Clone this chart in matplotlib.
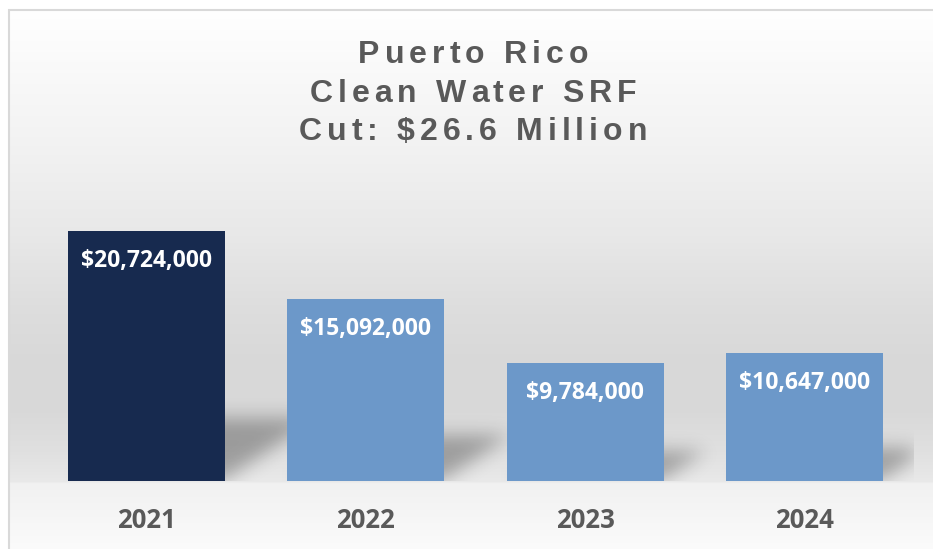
import numpy as np
import matplotlib
matplotlib.use("Agg")
from matplotlib import pyplot as plt
from matplotlib.path import Path
from matplotlib.font_manager import FontProperties

# chart data
years = ["2021", "2022", "2023", "2024"]
amounts = [20724000, 15092000, 9784000, 10647000]
value_labels = ["$20,724,000", "$15,092,000", "$9,784,000", "$10,647,000"]
title_lines = ["Puerto Rico", "Clean Water SRF", "Cut: $26.6 Million"]

bar_colors = ["#172a4f", "#6c98c9", "#6c98c9", "#6c98c9"]

W, H = 933, 549
fig = plt.figure(figsize=(W / 100, H / 100), dpi=100)

# background axes in pixel coords
bg = fig.add_axes([0, 0, 1, 1], zorder=0)
bg.set_xlim(0, W)
bg.set_ylim(H, 0)
bg.axis("off")

# vertical gradient, grey in the middle, light at top and bottom
stops_y = [0, 10, 130, 230, 300, 360, 410, 450, 480, 482, 549]
stops_c = [255, 254, 243, 232, 222, 216, 217, 224, 233, 241, 251]
ys = np.arange(H)
grey = np.interp(ys, stops_y, stops_c) / 255.0
grad = np.repeat(grey[:, None], 2, axis=1)
bg.imshow(np.dstack([grad, grad, grad]), extent=(8, W, H, 9), aspect="auto",
          interpolation="bilinear", zorder=0)
bg.plot([8.5, 8.5], [9, H], color="#d9d9d9", lw=1.5, solid_capstyle="butt")
bg.plot([8, W], [9.5, 9.5], color="#d9d9d9", lw=1.5, solid_capstyle="butt")

# title with letter spacing, each char placed by hand
renderer = fig.canvas.get_renderer()
tprop = FontProperties(family="Liberation Sans", weight="bold", size=23)
track = 5.0
center_x = 473
baselines = [63, 102, 140]


def text_w(s):
    w, h, d = renderer.get_text_width_height_descent(s + "|", tprop, ismath=False)
    w0, h0, d0 = renderer.get_text_width_height_descent("|", tprop, ismath=False)
    return w - w0


for line, base in zip(title_lines, baselines):
    total = text_w(line) + track * (len(line) - 1)
    x0 = center_x - total / 2
    for i, ch in enumerate(line):
        if ch == " ":
            continue
        x = x0 + text_w(line[:i]) + track * i
        bg.text(x, base, ch, fontproperties=tprop, color="#595959",
                ha="left", va="baseline")

# main axes
ax_left, ax_right = 37, 914
ax_bottom, ax_top = 481, 150
ax = fig.add_axes([ax_left / W, (H - ax_bottom) / H,
                   (ax_right - ax_left) / W, (ax_bottom - ax_top) / H], zorder=2)
ax.patch.set_alpha(0)
ymax = amounts[0] * (ax_bottom - ax_top) / 250.0
ax.set_xlim(-0.5, 3.5)
ax.set_ylim(0, ymax)
for s in ax.spines.values():
    s.set_visible(False)
ax.set_xticks([])
ax.set_yticks([])

x = np.arange(len(years))
bw = 0.715
ax.bar(x, amounts, width=bw, color=bar_colors, edgecolor="none", zorder=3)

# perspective shadows behind the bars
nx, ny = ax_right - ax_left, ax_bottom - ax_top
px_x = 4.0 / nx  # data units per pixel
px_y = ymax / ny
gx = np.linspace(-0.5, 3.5, nx)
gy = np.linspace(0, ymax, ny)
GX, GY = np.meshgrid(gx, gy)
pts = np.column_stack([GX.ravel(), GY.ravel()])
mask = np.zeros(GX.shape)
for xi, v in zip(x, amounts):
    hpx = v / px_y
    hk = 0.25 * hpx
    dx = 1.5 * hk
    x0, x1 = xi - bw / 2 + 0.02, xi + bw / 2 - 0.01
    poly = Path([(x0, 0), (x1, 0), (x1 + dx * px_x, hk * px_y),
                 (x0 + dx * px_x, hk * px_y), (x0, 0)])
    mask = np.maximum(mask, poly.contains_points(pts).reshape(GX.shape))

sig = 9
kx = np.arange(-3 * sig, 3 * sig + 1)
k = np.exp(-kx ** 2 / (2 * sig ** 2))
k /= k.sum()
blur = np.apply_along_axis(lambda r: np.convolve(r, k, mode="same"), 1, mask)
blur = np.apply_along_axis(lambda c: np.convolve(c, k, mode="same"), 0, blur)
rgba = np.zeros((ny, nx, 4))
rgba[..., 3] = blur * 0.3
ax.imshow(rgba, extent=(-0.5, 3.5, 0, ymax), origin="lower", aspect="auto",
          interpolation="bilinear", zorder=1)

# labels
for xi, v, lab in zip(x, amounts, value_labels):
    ax.annotate(lab, (xi, v), xytext=(0, -30 * 0.72), textcoords="offset points",
                ha="center", va="center", color="white", fontsize=16.5,
                fontweight="bold", family="Open Sans", zorder=4)
for xi, yr in zip(x, years):
    ax.annotate(yr, (xi, 0), xytext=(0, -39 * 0.72), textcoords="offset points",
                ha="center", va="center", color="#595959", fontsize=18.5,
                fontweight="bold", family="Open Sans", annotation_clip=False)

fig.savefig("out.png", dpi=100)
